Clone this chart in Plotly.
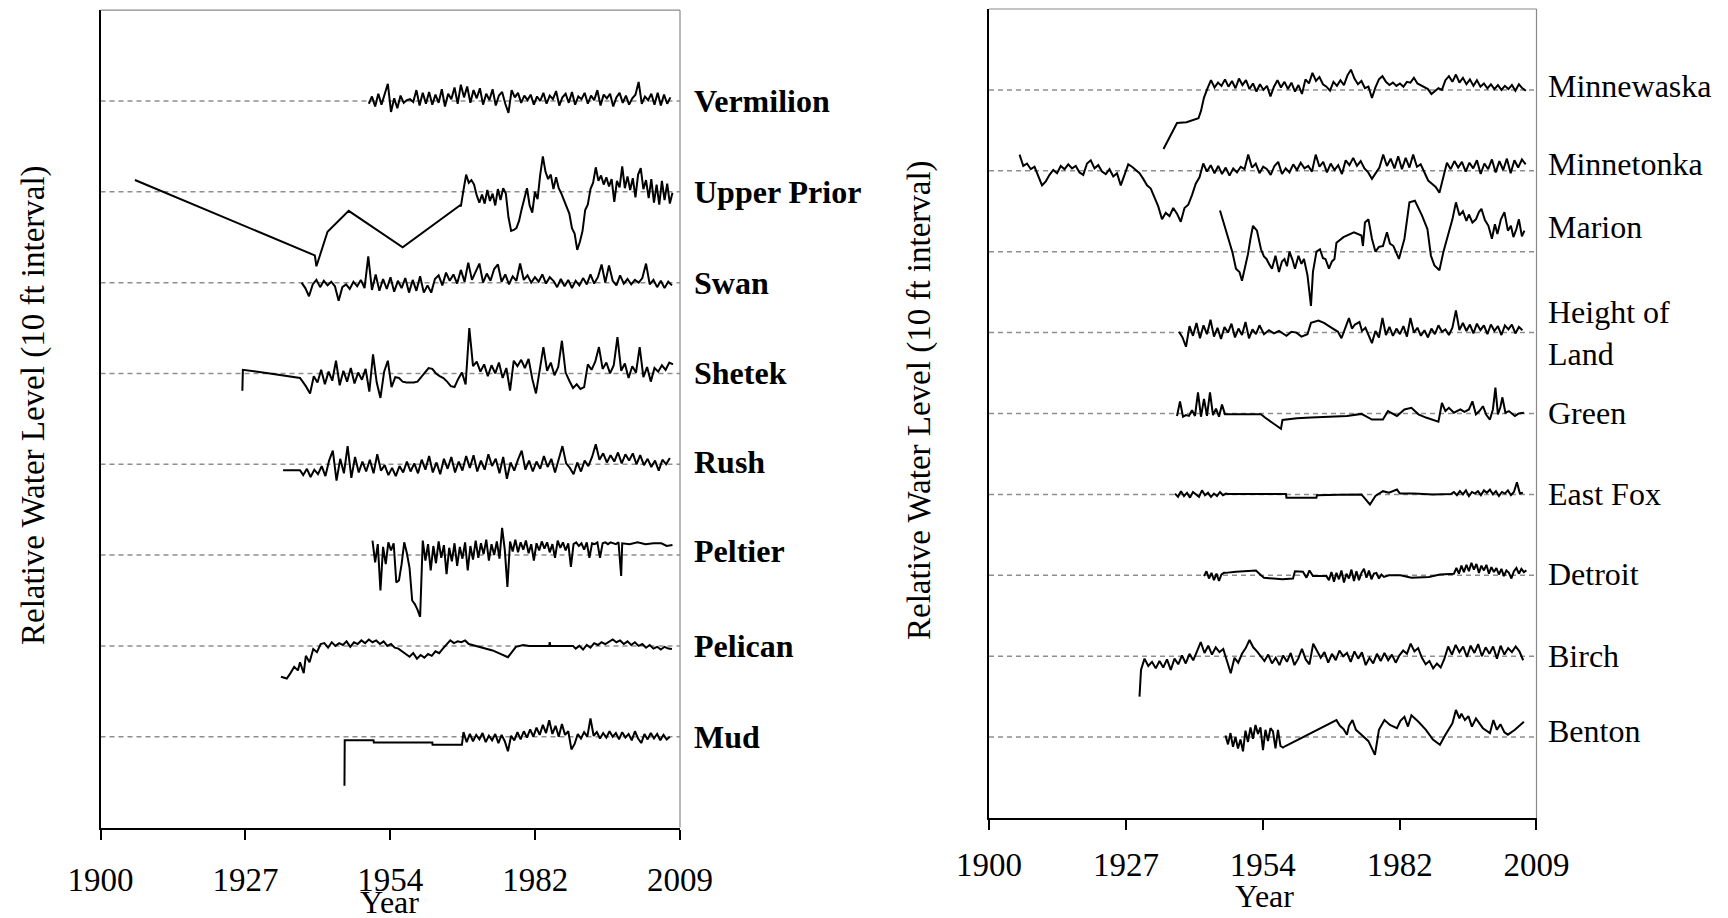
import plotly.graph_objects as go

FONT = "Liberation Serif, Times New Roman, serif"

# ---------------- axis ticks (date axis, 10000-day major unit) ----------------
TICK_YEARS = [1900.0, 1927.38, 1954.76, 1982.14, 2009.51]
TICK_LABELS = ["1900", "1927", "1954", "1982", "2009"]
X_MIN, X_MAX = 1899.99, 2009.52

# ---------------- lakes and their baselines (ft offset, 10 ft interval) ----------------
LEFT_LAKES = ["Vermilion", "Upper Prior", "Swan", "Shetek", "Rush", "Peltier", "Pelican", "Mud"]
LEFT_BASELINES = [80, 70, 60, 50, 40, 30, 20, 10]
RIGHT_LAKES = ["Minnewaska", "Minnetonka", "Marion", "Height of<br>Land", "Green",
               "East Fox", "Detroit", "Birch", "Benton"]
RIGHT_BASELINES = [90, 80, 70, 60, 50, 40, 30, 20, 10]

# ---------------- water-level anomalies (ft) ----------------
# Vermilion
VERMILION_start, VERMILION_step = 1950.7, 0.6
VERMILION_levels = [-0.3, 0.5, -0.6, 0.8, -0.4, 0.9, 1.9, -1.2, 0.3, -0.8,
                    0.6, -0.2, 0.1, 0.2, -0.1, 1.2, -0.5, 0.9, -0.3, 1.0,
                    -0.4, 0.7, -0.2, 1.3, -0.6, 0.8, 0.2, 1.5, -0.3, 1.8,
                    0.4, 1.6, -0.2, 1.2, 0.3, 1.4, -0.4, 0.8, 0.1, 1.3,
                    -0.5, 0.6, 1.0, -0.3, -1.3, 1.2, 0.4, 0.9, -0.2, 0.6,
                    0.1, 0.7, -0.4, 0.5, 0.0, 0.9, -0.3, 0.6, 0.2, 1.1,
                    -0.5, 0.4, 0.8, -0.2, 1.0, -0.4, 0.5, 0.2, 0.9, -0.3,
                    0.6, 0.1, 1.2, -0.5, 0.7, 0.3, 0.8, -0.6, 0.4, 0.9,
                    -0.2, 0.6, -0.4, 0.3, 0.7, 2.1, -0.3, 0.5, 0.1, 0.8,
                    -0.4, 0.9, -0.5, 0.7, -0.3, 0.4]

# Upper Prior
UPPER_PRIOR_years = [1906.5, 1940.5, 1940.8, 1942.9, 1946.9, 1957.1, 1967.9]
UPPER_PRIOR_levels = [1.3, -7.0, -8.2, -4.4, -2.1, -6.1, -1.5]
UPPER_PRIOR_start, UPPER_PRIOR_step = 1968.1, 0.5
UPPER_PRIOR_run = [-1.6, 0.2, 1.9, 1.0, 1.3, 0.8, -0.4, -1.2, -0.3, -1.3,
                   0.2, -1.0, -0.2, -1.5, 0.3, -0.9, 0.4, -0.2, -2.8, -4.3,
                   -4.2, -4.0, -3.2, -1.9, -0.8, 0.4, -1.5, -2.3, 0.0, -0.8,
                   1.9, 3.9, 2.2, 1.4, 1.9, 0.3, 1.6, 0.4, -0.2, -0.9,
                   -1.8, -2.4, -4.0, -4.6, -6.4, -5.5, -4.3, -2.0, -1.4, 0.3,
                   1.0, 2.7, 1.2, 1.8, 0.8, 1.6, 0.6, 1.4, -1.1, 1.2,
                   0.5, 2.8, 0.4, 1.7, 0.2, 1.5, -0.6, 1.9, 2.6, 0.3,
                   1.3, -0.7, 1.4, -1.2, 0.8, -1.4, 1.2, -0.9, 0.9, -1.3, -0.1]

# Swan
SWAN_start, SWAN_step = 1938.0, 0.7
SWAN_levels = [0.0, -0.6, -1.5, -0.2, 0.3, -0.5, 0.2, -0.3, 0.1, -0.4,
               -2.0, -0.5, -0.2, -0.7, 0.1, -0.4, 0.3, -0.6, 2.9, -0.8,
               0.9, -0.9, 0.4, -0.7, 0.6, -1.0, 0.2, -0.6, 0.5, -1.1,
               0.3, -0.9, 0.7, -1.1, -0.3, -1.1, 0.4, 0.8, -0.3, 1.1,
               0.2, 0.9, -0.1, 1.4, 0.1, 2.2, 0.3, 1.2, 2.1, 0.0,
               1.0, 0.2, 1.5, 2.0, 0.1, 0.9, -0.2, 0.7, 0.2, 2.1,
               0.3, 0.8, 0.0, 0.6, 0.1, 0.9, -0.1, 0.6, 0.2, -0.5,
               0.4, -0.4, 0.3, -0.6, 0.2, -0.3, 0.5, -0.2, 0.9, -0.1,
               0.6, 2.0, 0.0, 1.9, 0.2, -0.3, 0.8, -0.1, 0.4, -0.2,
               0.3, 0.0, 0.5, 2.1, -0.2, 0.3, -0.5, 0.2, -0.6, 0.1, -0.3]

# Shetek
SHETEK_years = [1926.8, 1926.9, 1932.0, 1937.7, 1938.8]
SHETEK_levels = [-1.9, 0.4, 0.0, -0.5, -1.4]
SHETEK_start, SHETEK_step = 1939.6, 0.7
SHETEK_run = [-2.2, -0.3, -1.0, 0.4, -1.2, 0.2, -0.8, 1.4, -1.3, 0.3,
              -0.9, 0.6, -1.1, 0.1, -0.7, 0.5, -2.0, 2.1, -1.0, -2.7,
              0.2, 1.4, -1.5, -0.4, -0.5, -0.9, -1.0, -1.0, -1.0, -0.9,
              -0.4, 0.1, 0.6, 0.5, 0.0, -0.3, -0.5, -0.9, -1.4, -1.5,
              -0.6, 0.1, -1.2, 5.0, 0.8, 1.3, 0.2, 1.0, -0.3, 0.9,
              0.0, 1.2, -0.5, 0.6, -1.9, 1.4, 0.8, 1.5, 0.6, 1.6,
              -0.6, -2.2, 0.5, 2.9, 0.3, 1.2, -0.2, 0.7, 3.6, 0.1,
              -0.8, -1.6, -1.2, -1.7, -1.5, 1.0, 0.4, 1.3, 2.9, 0.5,
              1.2, 0.0, 0.9, 4.0, 0.3, 1.1, -0.5, 0.8, 0.1, 2.9,
              -0.4, 0.7, -0.9, 0.6, 0.2, 0.9, 0.4, 1.2, 1.0]

# Rush
RUSH_years = [1934.5, 1937.7]
RUSH_levels = [-0.65, -0.65]
RUSH_start, RUSH_step = 1938.3, 0.7
RUSH_run = [-1.2, -0.5, -1.4, -0.6, -1.1, -0.2, -1.3, 0.4, 1.5, -1.8,
            0.6, -1.0, 2.0, -1.5, 0.8, -0.9, 0.3, -0.8, 0.5, -1.0,
            1.1, -0.7, -0.1, -1.2, -0.4, -1.3, -0.2, -0.9, 0.3, -0.8,
            0.1, -1.0, 0.5, -0.6, 0.9, -0.9, 0.2, -1.1, 0.6, -0.5,
            0.8, -0.9, 0.3, -0.7, 0.9, -0.4, 1.0, -0.8, 0.4, -0.6,
            1.1, -0.2, 0.6, -1.0, 0.8, -1.6, 0.2, -0.7, 0.5, 1.5,
            -0.6, 0.4, -0.8, 0.3, -0.5, 0.9, -0.3, 0.6, -0.9, 0.5,
            2.0, 0.1, -0.4, -1.1, 0.2, -0.8, 0.4, -0.2, 0.8, 2.2,
            0.5, 1.2, 0.2, 1.0, 0.3, 1.3, 0.1, 1.1, 0.4, 1.2,
            0.0, 1.0, -0.1, 0.6, -0.3, 0.4, -0.7, 0.5, 0.0, 0.7]

# Peltier
PELTIER_start, PELTIER_step = 1951.4, 0.5
PELTIER_run = [1.6, -0.8, 1.2, -3.9, 0.9, -1.0, 1.4, 0.5, 1.3, -3.0,
               -2.8, -1.0, 1.4, 0.2, -1.4, -5.0, -5.4, -6.0, -6.8, 1.6,
               -0.6, 1.2, -1.7, 1.0, -0.9, 1.5, -0.3, 1.1, -2.1, 0.8,
               -0.7, 1.3, -1.2, 0.9, -0.4, 1.4, -1.7, 1.0, -0.5, 1.6,
               -0.3, 1.3, 0.1, 1.7, -0.6, 1.2, 0.0, 1.5, -0.4, 3.0,
               0.6, -3.5, 1.5, 0.4, 1.7, 0.3, 1.4, 0.6, 1.6, 0.2,
               1.2, -0.6, 1.3, 0.5, 1.5, 0.7, 1.4, 0.3, 1.2, -0.3,
               1.6, 0.8, 1.4, 0.5, 1.3, -1.3, 1.2, 1.4, 1.0, 1.3,
               0.6, 1.4, -0.3, 1.3, 1.2, 1.4, -0.3, 1.3, 1.4, 1.2,
               1.4, 1.3, 1.2, 1.4, -2.3]
PELTIER_years = [1998.6, 2000.0, 2001.5, 2003.0, 2004.5, 2006.0, 2007.0, 2008.1]
PELTIER_levels = [1.3, 1.2, 1.4, 1.2, 1.3, 1.3, 1.0, 1.1]

# Pelican
PELICAN_years_a = [1934.1, 1935.2, 1935.9, 1936.6, 1937.3, 1937.7, 1938.4, 1938.8,
                   1939.5, 1940.2, 1940.9, 1941.6]
PELICAN_levels_a = [-3.4, -3.6, -3.0, -2.3, -2.7, -1.8, -3.0, -1.1, -1.8, -0.35, -0.7, 0.2]
PELICAN_start_a, PELICAN_step_a = 1942.3, 0.7
PELICAN_run_a = [0.3, -0.2, 0.4, 0.0, 0.3, 0.1, 0.5, -0.1, 0.4, 0.2,
                 0.6, 0.3, 0.7, 0.4, 0.6, 0.2, 0.5, 0.0, 0.2, -0.2,
                 -0.3, -0.6, -0.9, -1.2, -0.8, -1.4, -1.0, -1.3, -0.9, -1.1,
                 -0.6, -0.8, -0.3, 0.2, 0.6, 0.3, 0.5, 0.4, 0.6, 0.2, 0.1]
PELICAN_years_b = [1972.0, 1974.1, 1977.0, 1977.8, 1978.5, 1979.9, 1981.0, 1984.8, 1984.9, 1985.0, 1989.3]
PELICAN_levels_b = [-0.2, -0.5, -1.25, -0.7, -0.1, 0.1, 0.0, 0.0, 0.4, 0.0, 0.0]
PELICAN_start_b, PELICAN_step_b = 1989.8, 0.7
PELICAN_run_b = [-0.3, 0.0, -0.4, 0.1, -0.2, 0.3, 0.1, 0.4, 0.2, 0.5,
                 0.7, 0.4, 0.6, 0.2, 0.5, 0.1, 0.4, 0.0, 0.2, -0.2,
                 0.1, -0.3, -0.1, -0.4, -0.1, -0.3, -0.35]

# Mud
MUD_years = [1946.1, 1946.15, 1951.6, 1951.65, 1962.7, 1962.75, 1968.3]
MUD_levels = [-5.4, -0.4, -0.4, -0.65, -0.65, -0.9, -0.9]
MUD_start, MUD_step = 1968.6, 0.6
MUD_run = [0.5, -0.6, 0.3, -0.5, 0.2, -0.3, 0.4, -0.6, 0.1, -0.4,
           0.3, -0.7, 0.2, -0.5, -1.6, 0.1, -0.4, 0.5, -0.3, 0.6,
           -0.1, 0.8, 0.0, 1.0, 0.2, 1.3, 0.4, 1.8, 0.3, 1.2,
           0.0, 1.4, 0.2, 0.6, -1.4, -0.8, 0.3, -0.2, 0.5, 0.0,
           2.0, 0.1, 0.5, -0.2, 0.4, -0.1, 0.6, 0.0, 0.4, -0.3,
           0.5, -0.1, 0.3, -0.4, 0.6, -0.2, -0.7, 0.3, -0.3, 0.4,
           -0.2, 0.3, -0.4, 0.2, -0.3, 0.0]

# Minnewaska
MINNEWASKA_years = [1934.9, 1937.2, 1937.6, 1939.5, 1941.9, 1942.4, 1943.0]
MINNEWASKA_levels = [-7.3, -4.4, -4.1, -4.0, -3.5, -2.6, -0.95]
MINNEWASKA_start, MINNEWASKA_step = 1943.7, 0.7
MINNEWASKA_run = [0.2, 1.2, 0.3, 0.9, 0.5, 1.3, 0.4, 1.1, 0.2, 1.4,
                  0.6, 1.2, 0.1, 0.8, -0.2, 0.7, 0.0, 0.5, -0.8, 0.4,
                  1.2, 0.3, 1.0, 0.1, 0.9, -0.2, 0.6, -0.5, 1.3, 0.8,
                  2.1, 1.1, 1.6, 0.7, 0.4, -0.1, 1.0, 0.5, 1.2, 0.6,
                  1.8, 2.5, 1.4, 0.7, 1.1, 0.2, 0.4, -1.0, 0.3, 1.3,
                  1.7, 1.0, 0.6, 0.9, 0.5, 0.8, 0.4, 1.0, 0.9, 1.5,
                  0.8, 0.6, 0.3, 0.1, -0.5, -0.2, 0.2, 0.0, 1.2, 1.7,
                  1.0, 1.9, 0.9, 1.5, 0.7, 1.3, 0.5, 1.2, 0.4, 0.8,
                  0.2, 0.7, 0.1, 0.6, 0.0, 0.5, 0.1, 0.6, -0.1, 0.7,
                  0.2, -0.1]

# Minnetonka
MINNETONKA_start, MINNETONKA_step = 1906.1, 0.75
MINNETONKA_run = [2.0, 0.6, 0.9, 0.2, 0.5, -0.6, -1.8, -1.3, -0.5, 0.1,
                  -0.3, 0.6, 0.2, 0.8, 0.3, 0.6, -0.2, -0.5, 0.9, 1.3,
                  0.3, 0.7, -0.1, -0.4, 0.2, -0.7, -0.3, -1.8, -0.6, 0.8,
                  0.5, 0.1, -0.3, -1.0, -1.8, -2.2, -3.2, -4.4, -6.0, -5.2,
                  -5.6, -4.6, -5.3, -6.3, -4.6, -4.2, -3.0, -1.6, -0.8, 0.9,
                  -0.1, 0.7, -0.3, 0.6, -0.4, 0.4, -0.6, 0.3, -0.2, 0.5,
                  0.2, 2.0, 0.4, 0.9, -0.3, 0.5, 0.2, -0.5, 0.6, 1.1,
                  -0.4, 0.3, -0.2, 0.8, 0.1, 1.0, 0.3, 0.6, -0.1, 2.0,
                  0.5, 1.1, -0.2, 0.9, 0.1, 0.7, -0.4, 1.3, 0.7, 1.6,
                  0.6, 1.2, 0.3, -0.2, -1.0, -0.3, 0.4, 2.0, 0.6, 1.5,
                  0.3, 1.8, 0.2, 1.6, 0.4, 2.0, 0.5, 0.8, -0.3, -1.2,
                  -1.6, -2.0, -2.7, -0.9, 1.0, 0.2, 1.2, 0.4, 1.1, -0.1,
                  1.0, 0.3, 1.3, -0.4, 0.9, 0.2, 1.4, -0.2, 1.2, 0.1,
                  1.5, -0.3, 1.3, 0.4, 1.4, 0.8]

# Marion
MARION_years = [1946.2, 1946.9, 1948.0, 1948.7, 1949.4, 1950.1, 1950.6, 1951.2, 1951.8, 1952.3,
                1952.8, 1953.6, 1954.4, 1955.0, 1955.5, 1956.1, 1956.6, 1957.3, 1958.0, 1958.6,
                1959.1, 1959.6, 1960.1, 1960.7, 1961.2, 1961.9, 1962.5, 1963.0, 1963.7, 1964.4,
                1964.8, 1965.5, 1966.2, 1966.8, 1967.3, 1968.0, 1968.6, 1969.1, 1969.5, 1970.9,
                1973.0, 1974.5, 1974.8, 1975.2, 1975.9, 1976.6, 1977.3, 1978.0, 1978.8, 1979.6,
                1980.2, 1980.9, 1982.0, 1983.1, 1984.1, 1985.2, 1986.6, 1987.7, 1988.4, 1989.1,
                1990.1, 1990.9, 1991.6, 1992.7, 1993.4, 1994.1, 1994.8, 1995.5, 1996.0, 1996.7,
                1997.4, 1998.0, 1998.5, 1999.2, 1999.9, 2000.6, 2001.2, 2001.7, 2002.4, 2003.1,
                2003.8, 2004.4, 2004.9, 2005.5, 2006.0, 2006.6, 2007.1]
MARION_levels = [5.1, 3.7, 1.6, -0.1, -2.1, -2.5, -3.6, -2.1, -0.3, 1.6,
                 3.2, 2.6, 0.3, -0.6, -0.9, -1.6, -2.1, -0.5, -2.5, -1.2,
                 -0.9, -1.8, 0.0, -1.0, -2.1, -0.5, -1.5, -0.9, -2.9, -6.7,
                 -2.5, 0.0, 0.3, -0.8, -0.9, -2.1, -1.2, -0.9, 1.1, 1.8,
                 2.4, 2.0, 0.7, 3.6, 4.0, 1.6, 0.0, 0.6, 0.7, 2.4,
                 1.0, 0.7, -0.9, 1.6, 6.1, 6.3, 4.5, 2.8, -0.5, -1.7,
                 -2.3, 0.0, 1.6, 4.0, 6.1, 4.5, 5.0, 3.8, 4.6, 3.6,
                 4.0, 4.9, 5.3, 3.9, 3.2, 1.6, 3.4, 2.2, 4.0, 4.9,
                 2.6, 3.2, 1.8, 2.8, 4.0, 1.9, 2.6]

# Height of Land
HEIGHT_start_a, HEIGHT_step_a = 1938.0, 0.7
HEIGHT_run_a = [0.1, -0.6, -1.75, 0.8, -0.4, 1.2, -0.7, 0.9, -0.2, 1.6,
                -0.5, 0.6, -0.8, 0.7, 0.0, 1.1, -0.6, 0.5, -0.3, 1.3,
                -0.7, 0.4, -0.2, 0.9]
HEIGHT_years = [1955.0, 1956.0, 1957.0, 1958.0, 1959.5, 1960.5, 1961.5, 1962.5, 1963.7, 1964.4,
                1965.9, 1967.0, 1968.0, 1969.8, 1970.5, 1971.2, 1972.0, 1972.6, 1973.2, 1974.1,
                1974.6, 1975.3, 1976.0, 1976.6]
HEIGHT_levels = [-0.2, 0.3, -0.1, 0.2, -0.4, 0.1, 0.0, -0.5, -0.2, 1.2,
                 1.5, 1.2, 0.8, 0.1, -0.7, 0.6, 1.8, 0.5, 1.0, 1.3,
                 0.2, 0.6, -0.4, -1.3]
HEIGHT_start_b, HEIGHT_step_b = 1977.3, 0.7
HEIGHT_run_b = [0.2, -0.6, 1.8, -0.3, 0.7, -0.4, 0.5, -0.2, 0.8, -0.5,
                1.8, 0.0, 0.6, -0.4, 0.3, -0.6, 0.5, -0.2, 0.9, 0.1,
                0.4, -0.3, 0.6, 2.75, 0.3, 1.2, 0.2, 1.0, -0.1, 1.1,
                0.3, 0.9, -0.2, 1.0, 0.2, 0.8, -0.3, 0.9, 0.4, 1.0,
                -0.1, 0.7, 0.3]

# Green
GREEN_start, GREEN_step = 1937.6, 0.6
GREEN_run = [-0.3, 1.5, -0.4, -0.2, -0.3, 0.4, -0.3, 2.6, -0.4, 1.8,
             -0.3, 2.6, -0.2, 0.6, -0.4, 1.1, -0.1]
GREEN_years = [1947.6, 1954.4, 1955.2, 1957.3, 1958.4, 1958.7, 1961.6, 1964.4, 1968.0, 1971.6,
               1974.5, 1976.6, 1978.8, 1979.8, 1981.6, 1983.1, 1984.5, 1985.9, 1987.4, 1988.8,
               1989.9, 1990.6, 1991.3, 1992.0, 1993.0, 1994.3, 1995.1, 1996.0, 1996.7, 1997.4,
               1998.1, 1998.8, 1999.5, 2000.2, 2000.8, 2001.3, 2001.8, 2002.3, 2002.7, 2003.3,
               2004.0, 2005.2, 2006.0, 2007.0]
GREEN_levels = [-0.1, -0.1, -0.5, -1.4, -1.9, -0.8, -0.6, -0.5, -0.4, -0.3,
                -0.05, -0.75, -0.75, 0.3, -0.3, 0.5, 0.7, -0.1, -0.5, -0.75,
                -1.0, 1.3, 0.3, 0.7, 0.1, 0.5, 0.2, 0.5, 1.5, -0.1,
                0.3, 0.9, -0.2, -0.75, 0.5, 3.2, -0.1, 0.8, 2.0, 0.1,
                0.3, -0.3, 0.0, 0.1]

# East Fox
EASTFOX_start_a, EASTFOX_step_a = 1937.2, 0.6
EASTFOX_run_a = [0.1, -0.3, 0.4, -0.2, 0.2, -0.4, 0.3, 0.0, -0.3, 0.5,
                 -0.1, 0.2, -0.3, 0.1, -0.2, 0.3, -0.1, 0.1]
EASTFOX_years = [1947.8, 1959.4, 1959.5, 1965.5, 1965.6, 1970.0, 1974.5, 1976.2, 1977.3, 1978.8,
                 1980.0, 1981.6, 1982.2, 1985.0, 1988.8, 1992.4]
EASTFOX_levels = [0.05, 0.05, -0.4, -0.4, -0.1, -0.05, 0.0, -1.25, -0.2, 0.4,
                  0.2, 0.6, 0.1, 0.1, 0.0, 0.05]
EASTFOX_start_b, EASTFOX_step_b = 1993.0, 0.6
EASTFOX_run_b = [0.3, -0.1, 0.4, 0.0, 0.5, -0.2, 0.3, 0.1, 0.4, -0.1,
                 0.5, 0.2, 0.6, 0.0, 0.4, -0.2, 0.3, 0.1, 0.5, -0.1,
                 0.3, 1.5, 0.1, 0.2]

# Detroit
DETROIT_start_a, DETROIT_step_a = 1943.0, 0.5
DETROIT_run_a = [-0.1, 0.5, -0.4, 0.3, -0.6, 0.2, -0.7, 0.1, 0.3]
DETROIT_years_a = [1947.3, 1949.4, 1952.3, 1952.6, 1953.4, 1954.4, 1955.0, 1958.7, 1960.8, 1961.2,
                   1962.8, 1963.5, 1964.1, 1964.8, 1967.5]
DETROIT_levels_a = [0.3, 0.45, 0.6, 0.6, 0.6, 0.0, -0.3, -0.5, -0.4, 0.5,
                    0.45, -0.3, 0.6, -0.1, -0.1]
DETROIT_start_b, DETROIT_step_b = 1968.0, 0.5
DETROIT_run_b = [-0.6, 0.4, -0.8, 0.3, -0.5, 0.6, -0.9, 0.2, -0.4, 0.7,
                 -0.7, 0.5, -0.6, 0.3, 0.8, -0.3, 0.6, -0.5, 0.2, 0.3,
                 -0.4, 0.1, -0.2]
DETROIT_years_b = [1980.0, 1982.3, 1984.5, 1988.0, 1990.2, 1993.0]
DETROIT_levels_b = [0.0, 0.0, -0.3, -0.2, 0.1, 0.2]
DETROIT_start_c, DETROIT_step_c = 1993.5, 0.5
DETROIT_run_c = [0.9, 0.2, 1.2, 0.4, 1.3, 0.5, 1.55, 0.7, 1.4, 0.3,
                 1.2, 0.6, 1.3, 0.2, 1.0, 0.4, 0.9, 0.1, 0.8, -0.1,
                 0.6, 0.3, -0.4, 0.5, 0.9, 0.2, 0.8, 0.4, 0.6]

# Birch
BIRCH_years = [1930.1, 1930.4]
BIRCH_levels = [-5.0, -1.7]
BIRCH_start, BIRCH_step = 1931.1, 0.75
BIRCH_run = [-0.3, -1.2, -0.7, -1.5, -0.6, -1.4, -0.4, -1.7, -0.3, -1.0,
             0.1, -0.9, 0.3, -0.5, 0.6, 1.75, 0.4, 1.3, 0.2, 1.1,
             0.5, 0.9, -0.6, -2.1, -0.2, -0.8, 0.3, 1.0, 2.0, 1.1,
             0.6, 0.0, -0.6, 0.2, -0.9, -0.2, -1.1, 0.1, -0.7, 0.4,
             -1.1, -0.3, 0.9, -0.4, -1.0, 1.55, 0.6, -0.2, 0.5, -0.8,
             0.3, -0.5, 0.7, 0.0, 0.4, -0.7, 0.6, -0.3, 0.5, -1.1,
             -0.2, -0.9, 0.3, -0.6, 0.4, -0.5, 0.2, -0.8, 0.1, 0.7,
             0.3, 1.55, 0.6, 1.0, -0.2, -1.0, -0.6, -1.5, -0.9, -1.4,
             -0.3, 1.2, 0.2, 1.4, 0.5, 1.2, -0.1, 1.3, 0.4, 1.5,
             0.0, 1.1, 0.3, 1.2, -0.3, 1.3, 0.2, 1.0, 0.5, 1.2,
             0.6, -0.5]

# Benton
BENTON_start, BENTON_step = 1947.3, 0.5
BENTON_run = [0.2, -0.9, 0.5, -1.2, 0.0, -1.4, -0.3, -1.75, 0.8, -0.6,
              1.2, -0.2, 1.5, 0.4, 1.2, -1.6, 0.9, -0.5, 1.1, 0.7,
              -1.4, 0.9, -1.1, -1.3, -1.1]
BENTON_years = [1969.5, 1970.2, 1970.9, 1971.6, 1972.0, 1972.7, 1973.4, 1974.5, 1975.9, 1977.2,
                1978.0, 1979.1, 1980.2, 1981.6, 1982.3, 1983.1, 1983.8, 1984.5, 1985.9, 1987.4,
                1988.8, 1990.2, 1991.3, 1992.7, 1993.4, 1994.1, 1994.5, 1995.2, 1995.9, 1996.6,
                1997.4, 1998.8, 2000.2, 2000.9, 2001.6, 2002.3, 2003.1, 2003.8, 2005.2, 2007.0]
BENTON_levels = [2.1, 1.4, 1.0, 0.3, 1.4, 2.1, 0.9, 0.3, -0.5, -2.2,
                 0.9, 2.1, 1.5, 1.1, 2.0, 2.5, 1.3, 2.7, 1.9, 0.9,
                 -0.3, -0.95, 0.3, 1.7, 3.35, 2.3, 2.9, 2.1, 2.6, 1.3,
                 2.3, 1.1, 0.5, 2.1, 0.9, 1.6, 0.6, 0.3, 0.9, 1.9]


# ---------------- helpers to assemble the series ----------------
def run(start, step, levels):
    return [(start + step * i, v) for i, v in enumerate(levels)]


def pts(years, levels):
    return list(zip(years, levels))


def series(*parts):
    allp = sorted([p for part in parts for p in part], key=lambda t: t[0])
    return [p[0] for p in allp], [p[1] for p in allp]


LEFT_DATA = [
    series(run(VERMILION_start, VERMILION_step, VERMILION_levels)),
    series(pts(UPPER_PRIOR_years, UPPER_PRIOR_levels),
           run(UPPER_PRIOR_start, UPPER_PRIOR_step, UPPER_PRIOR_run)),
    series(run(SWAN_start, SWAN_step, SWAN_levels)),
    series(pts(SHETEK_years, SHETEK_levels), run(SHETEK_start, SHETEK_step, SHETEK_run)),
    series(pts(RUSH_years, RUSH_levels), run(RUSH_start, RUSH_step, RUSH_run)),
    series(run(PELTIER_start, PELTIER_step, PELTIER_run), pts(PELTIER_years, PELTIER_levels)),
    series(pts(PELICAN_years_a, PELICAN_levels_a),
           run(PELICAN_start_a, PELICAN_step_a, PELICAN_run_a),
           pts(PELICAN_years_b, PELICAN_levels_b),
           run(PELICAN_start_b, PELICAN_step_b, PELICAN_run_b)),
    series(pts(MUD_years, MUD_levels), run(MUD_start, MUD_step, MUD_run)),
]

RIGHT_DATA = [
    series(pts(MINNEWASKA_years, MINNEWASKA_levels),
           run(MINNEWASKA_start, MINNEWASKA_step, MINNEWASKA_run)),
    series(run(MINNETONKA_start, MINNETONKA_step, MINNETONKA_run)),
    series(pts(MARION_years, MARION_levels)),
    series(run(HEIGHT_start_a, HEIGHT_step_a, HEIGHT_run_a),
           pts(HEIGHT_years, HEIGHT_levels),
           run(HEIGHT_start_b, HEIGHT_step_b, HEIGHT_run_b)),
    series(run(GREEN_start, GREEN_step, GREEN_run), pts(GREEN_years, GREEN_levels)),
    series(run(EASTFOX_start_a, EASTFOX_step_a, EASTFOX_run_a),
           pts(EASTFOX_years, EASTFOX_levels),
           run(EASTFOX_start_b, EASTFOX_step_b, EASTFOX_run_b)),
    series(run(DETROIT_start_a, DETROIT_step_a, DETROIT_run_a),
           pts(DETROIT_years_a, DETROIT_levels_a),
           run(DETROIT_start_b, DETROIT_step_b, DETROIT_run_b),
           pts(DETROIT_years_b, DETROIT_levels_b),
           run(DETROIT_start_c, DETROIT_step_c, DETROIT_run_c)),
    series(pts(BIRCH_years, BIRCH_levels), run(BIRCH_start, BIRCH_step, BIRCH_run)),
    series(run(BENTON_start, BENTON_step, BENTON_run), pts(BENTON_years, BENTON_levels)),
]

# ---------------- layout constants (page pixels of the 1728x918 window) ----------------
W, H = 1728, 918
PAGE_OFF = 8          # default body margin of the html page


def fx(px):
    return (px - PAGE_OFF) / W


def fy(py):
    return 1 - (py - PAGE_OFF) / H


LEFT_X = (100.5, 680.0)
LEFT_Y = (10.2, 827.5)
RIGHT_X = (989.0, 1536.5)
RIGHT_Y = (9.0, 818.0)
LEFT_LABEL_X = 692
RIGHT_LABEL_X = 1546
LEFT_LABEL_DY = [0, 0, 0, 0, 0.3, 0.5, 0, 0]
RIGHT_LABEL_DY = [0.5, 0.8, 3.0, 0, 0, 0, 0.2, 0, 0.7]
LINE_W = 2.0

fig = go.Figure()

for (xs, ys), base in zip(LEFT_DATA, LEFT_BASELINES):
    fig.add_trace(go.Scatter(x=xs, y=[base + v for v in ys], mode="lines",
                             line=dict(color="black", width=LINE_W),
                             xaxis="x", yaxis="y", hoverinfo="skip", showlegend=False))
for (xs, ys), base in zip(RIGHT_DATA, RIGHT_BASELINES):
    fig.add_trace(go.Scatter(x=xs, y=[base + v for v in ys], mode="lines",
                             line=dict(color="black", width=LINE_W),
                             xaxis="x2", yaxis="y2", hoverinfo="skip", showlegend=False))

xcommon = dict(range=[X_MIN, X_MAX], tickmode="array", tickvals=TICK_YEARS, ticktext=TICK_LABELS,
               showline=True, linecolor="black", linewidth=2, ticks="outside", ticklen=10,
               tickwidth=2, tickcolor="black", showgrid=False, zeroline=False, automargin=False,
               tickfont=dict(family=FONT, size=33, color="black"), fixedrange=True)
ycommon = dict(showline=True, linecolor="black", linewidth=2, showticklabels=False, ticks="",
               showgrid=False, zeroline=False, automargin=False, fixedrange=True)

fig.update_layout(
    width=W, height=H, margin=dict(l=0, r=0, t=0, b=0, autoexpand=False),
    paper_bgcolor="white", plot_bgcolor="white", showlegend=False,
    xaxis=dict(domain=[fx(LEFT_X[0]), fx(LEFT_X[1])], anchor="y", ticklabelstandoff=12, **xcommon),
    yaxis=dict(domain=[fy(LEFT_Y[1]), fy(LEFT_Y[0])], anchor="x", range=[0, 90], **ycommon),
    xaxis2=dict(domain=[fx(RIGHT_X[0]), fx(RIGHT_X[1])], anchor="y2", ticklabelstandoff=6, **xcommon),
    yaxis2=dict(domain=[fy(RIGHT_Y[1]), fy(RIGHT_Y[0])], anchor="x2", range=[0, 100], **ycommon),
)

shapes = []
for xa, ya, bases in (("x", "y", LEFT_BASELINES), ("x2", "y2", RIGHT_BASELINES)):
    for b in bases:
        shapes.append(dict(type="line", xref=f"{xa} domain", yref=ya, x0=0, x1=1, y0=b, y1=b,
                           line=dict(color="#8e8e8e", width=1.5, dash="5px,4px"), layer="below"))
    shapes.append(dict(type="line", xref=f"{xa} domain", yref=f"{ya} domain", x0=0, x1=1, y0=1, y1=1,
                       line=dict(color="#8a8a8a", width=1.2)))
    shapes.append(dict(type="line", xref=f"{xa} domain", yref=f"{ya} domain", x0=1, x1=1, y0=0, y1=1,
                       line=dict(color="#8a8a8a", width=1.2)))
fig.update_layout(shapes=shapes)

annotations = []
for name, base, dy in zip(LEFT_LAKES, LEFT_BASELINES, LEFT_LABEL_DY):
    annotations.append(dict(text=f"<b>{name}</b>", xref="paper", yref="y", x=fx(LEFT_LABEL_X), y=base + dy,
                            xanchor="left", yanchor="middle", showarrow=False,
                            font=dict(family=FONT, size=32, color="black")))
for name, base, dy in zip(RIGHT_LAKES, RIGHT_BASELINES, RIGHT_LABEL_DY):
    annotations.append(dict(text=name, xref="paper", yref="y2", x=fx(RIGHT_LABEL_X), y=base + dy,
                            xanchor="left", yanchor="middle", align="left", showarrow=False,
                            font=dict(family=FONT, size=32, color="black")))
# axis titles
for x_px, y_px in ((33, 405), (920, 400)):
    annotations.append(dict(text="Relative Water Level (10 ft interval)", xref="paper", yref="paper",
                            x=fx(x_px), y=fy(y_px), textangle=-90, xanchor="center",
                            yanchor="middle", showarrow=False,
                            font=dict(family=FONT, size=33, color="black")))
for x_px, y_px in ((389, 902), (1264, 896)):
    annotations.append(dict(text="Year", xref="paper", yref="paper", x=fx(x_px), y=fy(y_px),
                            xanchor="center", yanchor="middle", showarrow=False,
                            font=dict(family=FONT, size=32, color="black")))
fig.update_layout(annotations=annotations)

fig.write_html("out.html", config={"displayModeBar": False})
